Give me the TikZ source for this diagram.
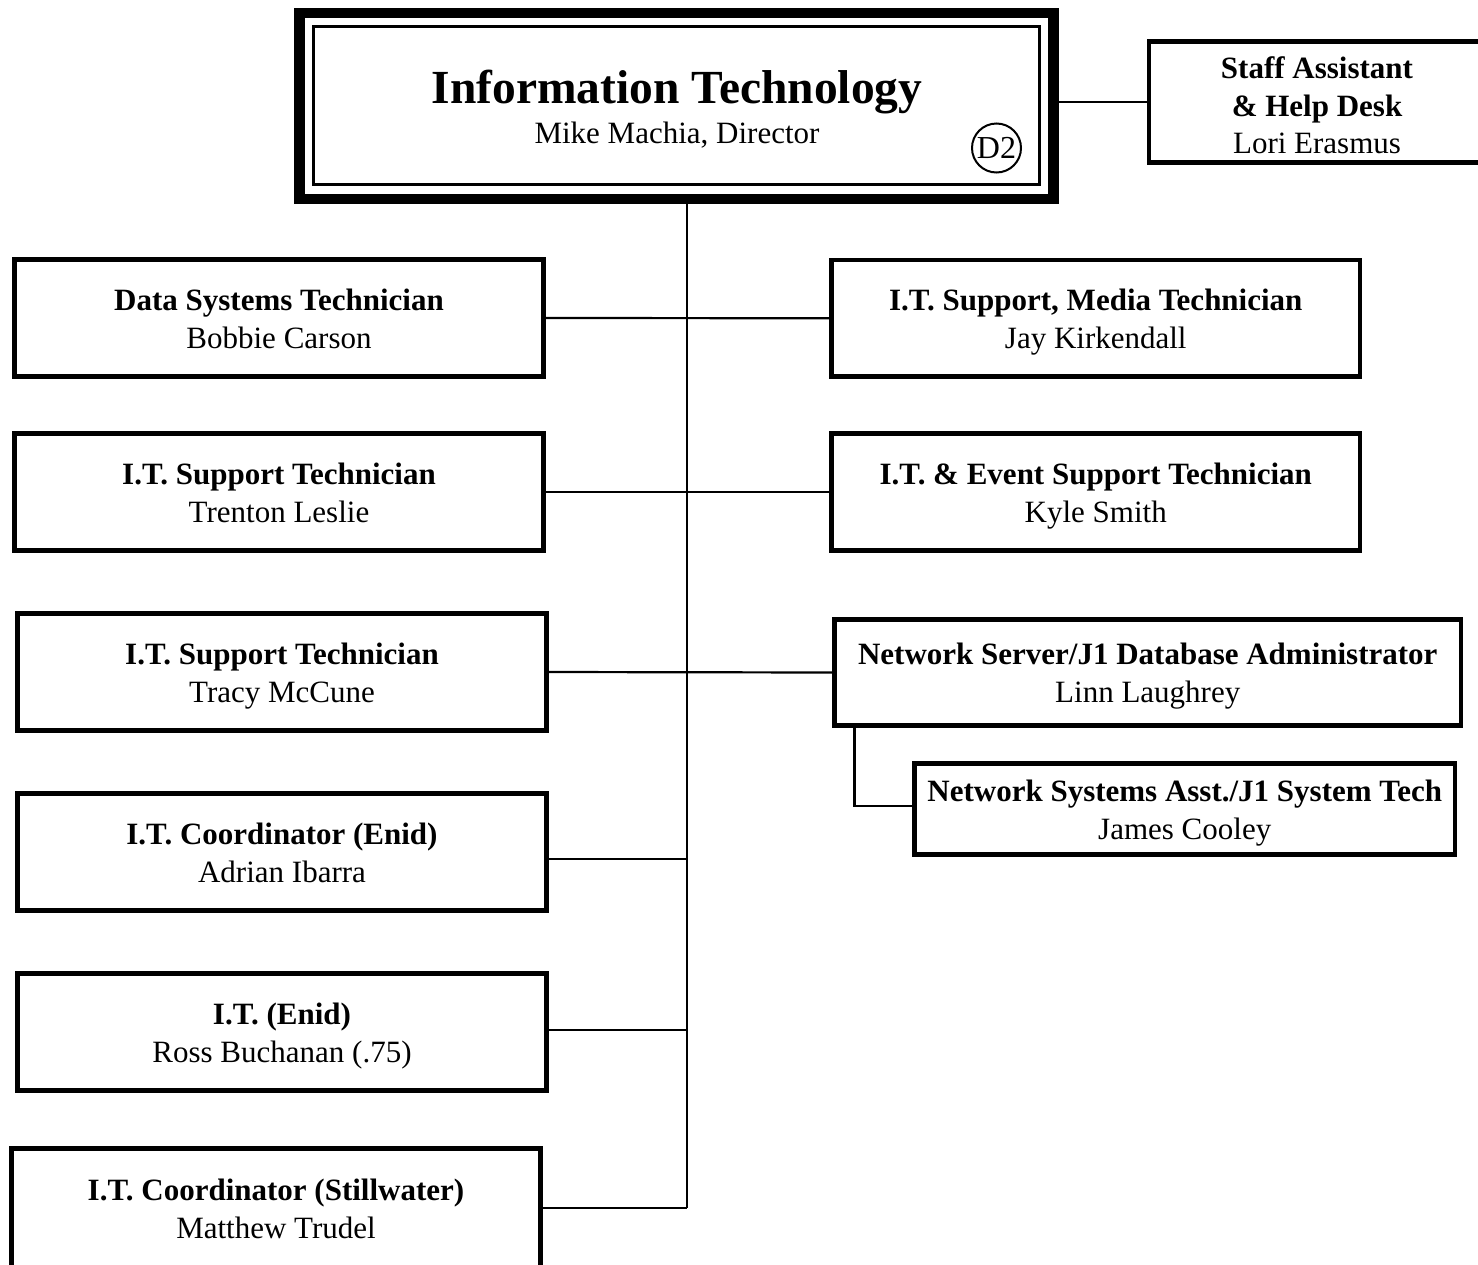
\documentclass[tikz,border=0pt]{standalone}
\usepackage{fontspec}
\setmainfont{Liberation Serif}
\usetikzlibrary{calc}
\newcommand\orgunit[7]{%
  \node[orgbox, minimum width={(#4-#2)*1pt}, minimum height={(#5-#3)*1pt}] (#1) at ({(#2+#4)/2},{(#3+#5)/2}) {};
  \node[ttl] (#1t) at ($(#1.center)+(0,-8)$) {#6};
  \node[nm] (#1n) at ($(#1.center)+(0,30)$) {#7};
}
\begin{document}
\begin{tikzpicture}[x=1pt,y=-1pt,
  orgbox/.style={draw, line width=4.8pt, rectangle, inner sep=0pt, outer sep=0pt},
  conn/.style={line width=2.2pt},
  ttl/.style={font=\fontsize{31}{37}\selectfont\bfseries, anchor=base, inner sep=0pt},
  nm/.style={font=\fontsize{31}{37}\selectfont, anchor=base, inner sep=0pt}]
\useasboundingbox (0,0) rectangle (1478,1264);
\clip (0,0) rectangle (1478,1264);

% top box
\node[draw, line width=10.5pt, rectangle, inner sep=0pt, outer sep=0pt, minimum width=754pt, minimum height=186pt] (top) at (676.5,105.75) {};
\node[draw, line width=3pt, rectangle, inner sep=0pt, outer sep=0pt, minimum width=726pt, minimum height=158pt] (topin) at (676.5,105.5) {};
\node[font=\fontsize{47.5}{52}\selectfont\bfseries, anchor=base, inner sep=0pt] (ttitle) at (677,103) {Information Technology};
\node[nm] (tdir) at (677,143) {Mike Machia, Director};
\node[draw, circle, line width=2pt, minimum size=49pt, inner sep=0pt, font=\fontsize{32}{37}\selectfont] (d2) at (996.5,148) {D2};

% staff box
\node[orgbox, minimum width=333pt, minimum height=121pt] (staff) at (1315.5,102) {};
\node[ttl] (staff1) at (1317,78) {Staff Assistant};
\node[ttl] (staff2) at (1317,116) {\& Help Desk};
\node[nm] (staff3) at (1317,153) {Lori Erasmus};

% left column
\orgunit{b1}{14.5}{259.5}{543.5}{376.5}{Data Systems Technician}{Bobbie Carson}
\orgunit{b2}{14.5}{433.5}{543.5}{550.5}{I.T. Support Technician}{Trenton Leslie}
\orgunit{b3}{17.5}{613.5}{546.5}{730.5}{I.T. Support Technician}{Tracy McCune}
\orgunit{b4}{17.5}{793.5}{546.5}{910.5}{I.T. Coordinator (Enid)}{Adrian Ibarra}
\orgunit{b5}{17.5}{973.5}{546.5}{1090.5}{I.T. (Enid)}{Ross Buchanan (.75)}
\orgunit{b6}{11.5}{1148.5}{540.5}{1268}{I.T. Coordinator (Stillwater)}{Matthew Trudel}

% right column
\orgunit{b7}{831.5}{260}{1360}{376.5}{I.T. Support, Media Technician}{Jay Kirkendall}
\orgunit{b8}{831.5}{433.5}{1360}{550.5}{I.T. \& Event Support Technician}{Kyle Smith}
\orgunit{b9}{834.5}{619.5}{1461}{725.5}{Network Server/J1 Database Administrator}{Linn Laughrey}
\orgunit{b10}{914.5}{763.5}{1455}{854.5}{Network Systems Asst./J1 System Tech}{James Cooley}

% connectors
\coordinate (tb) at (687,1208.25);
\draw[conn] (tb |- top.south) -- (tb);
\draw[conn] (staff.west -| top.east) -- (staff.west);
\draw[conn] (b1.east) -- (b7.west);
\draw[conn] (b2.east) -- (b8.west);
\draw[conn] (b3.east) -- (b9.west);
\draw[conn] ([yshift=-7pt]b4.east) -- ([yshift=-7pt]b4.east -| tb);
\draw[conn] ([yshift=2pt]b5.east) -- ([yshift=2pt]b5.east -| tb);
\draw[conn] (b6.east) -- (tb);
\draw[conn] ([xshift=20pt]b9.south west) |- ([yshift=3pt]b10.west);
\end{tikzpicture}
\end{document}
